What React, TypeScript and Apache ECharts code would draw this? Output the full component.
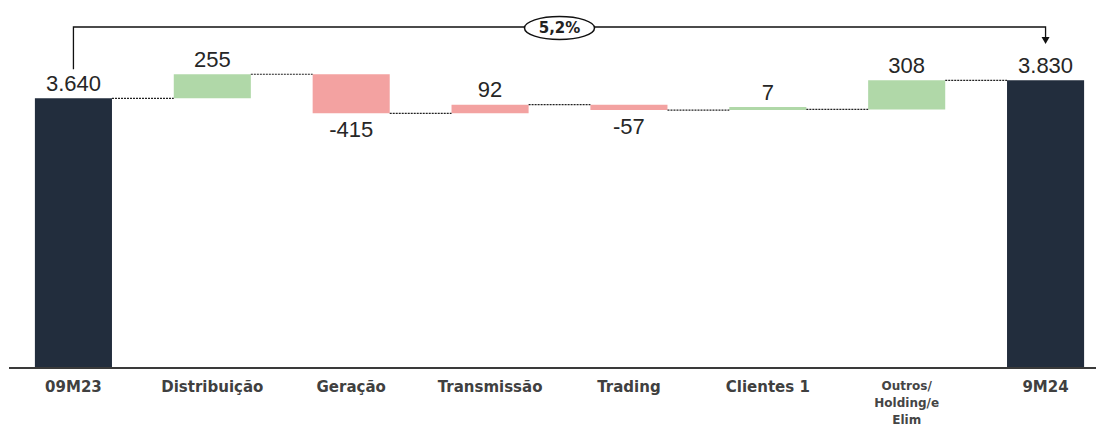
import React, { useEffect, useRef } from 'react';
import * as echarts from 'echarts';

const categories = ['09M23', 'Distribuição', 'Geração', 'Transmissão', 'Trading', 'Clientes 1', 'Outros/\nHolding/e\nElim', '9M24'];
const values = [3640, 255, -415, 92, -57, 7, 308, 3830];
const isTotal = [true, false, false, false, false, false, false, true];
// colour kind of each bar as shown in the source
const barKind = ['total', 'up', 'down', 'down', 'down', 'up', 'up', 'total'];
const changeLabel = '5,2%';
const yMin = 780;
const yMax = 4470;

const colors: Record<string, string> = { total: '#222d3d', up: '#b0d8a8', down: '#f3a2a1' };

function fmt(v: number): string {
  const neg = v < 0;
  const s = Math.abs(v).toString().replace(/\B(?=(\d{3})+(?!\d))/g, '.');
  return (neg ? '-' : '') + s;
}

export default function App() {
  const ref = useRef<HTMLDivElement>(null);
  useEffect(() => {
    if (!ref.current) return;
    const chart = echarts.init(ref.current, undefined, { renderer: 'svg' });
    const lows: number[] = [];
    const heights: number[] = [];
    const ends: number[] = [];
    let running = 0;
    values.forEach((v, i) => {
      if (isTotal[i]) {
        lows.push(0);
        heights.push(v);
        running = v;
      } else {
        const start = running;
        const end = running + v;
        lows.push(Math.min(start, end));
        heights.push(Math.abs(v));
        running = end;
      }
      ends.push(running);
    });
    const connectors = ends.slice(0, -1).map((lvl, i) => [i, lvl]);
    const barW = 0.555;
    const numFont = { fontFamily: 'Liberation Sans, Arial, sans-serif', fontSize: 22, color: '#262626' };

    chart.setOption({
      animation: false,
      grid: { left: 4, right: 1, top: 20, bottom: 61, outerBoundsMode: 'none', containLabel: false },
      xAxis: {
        type: 'category',
        data: categories.map((c) =>
          c.includes('\n')
            ? { value: c, textStyle: { fontSize: 12, lineHeight: 17, color: '#454545' } }
            : c
        ),
        axisLine: { show: false },
        axisTick: { show: false },
        axisLabel: {
          interval: 0,
          margin: 9,
          color: '#404040',
          fontFamily: 'DejaVu Sans, sans-serif',
          fontWeight: 'bold',
          fontSize: 15,
          lineHeight: 20,
        },
      },
      yAxis: { type: 'value', min: yMin, max: yMax, show: false, splitLine: { show: false } },
      series: [
        {
          type: 'bar',
          stack: 'w',
          barWidth: barW * 100 + '%',
          itemStyle: { color: 'transparent' },
          data: lows,
          silent: true,
        },
        {
          type: 'bar',
          stack: 'w',
          barWidth: barW * 100 + '%',
          barMinHeight: 3,
          data: heights.map((h, i) => ({
            value: h,
            itemStyle: { color: colors[barKind[i]] },
            label: {
              show: true,
              position: values[i] < 0 ? 'bottom' : 'top',
              distance: values[i] < 0 ? 5 : 4,
              formatter: fmt(values[i]),
              ...numFont,
            },
          })),
        },
        {
          type: 'custom',
          data: connectors,
          z: 5,
          renderItem: (params: any, api: any) => {
            const i = api.value(0);
            const lvl = api.value(1);
            const a = api.coord([i, lvl]);
            const b = api.coord([i + 1, lvl]);
            const hb = (api.size([1, 0])[0] * barW) / 2;
            return {
              type: 'line',
              shape: { x1: a[0] + hb, y1: a[1], x2: b[0] - hb, y2: b[1] },
              style: { stroke: '#222', lineWidth: 1.2, lineDash: [2, 1] },
            };
          },
        },
      ],
    });

    const p0 = chart.convertToPixel({ xAxisIndex: 0, yAxisIndex: 0 }, [0, values[0]]) as number[];
    const pN = chart.convertToPixel({ xAxisIndex: 0, yAxisIndex: 0 }, [values.length - 1, values[values.length - 1]]) as number[];
    const pBase = chart.convertToPixel({ xAxisIndex: 0, yAxisIndex: 0 }, [0, yMin]) as number[];
    const topY = 27;
    const midX = (p0[0] + pN[0]) / 2;
    chart.setOption({
      graphic: [
        {
          type: 'line',
          shape: { x1: 9, y1: pBase[1], x2: 1096, y2: pBase[1] },
          style: { stroke: '#3a3a3a', lineWidth: 2 },
          z: 10,
        },
        {
          type: 'polyline',
          shape: { points: [[p0[0], p0[1] - 29], [p0[0], topY], [pN[0], topY], [pN[0], topY + 11]] },
          style: { stroke: '#111', lineWidth: 1.3, fill: null },
        },
        {
          type: 'polygon',
          shape: { points: [[pN[0] - 4, topY + 10], [pN[0] + 4, topY + 10], [pN[0], topY + 17]] },
          style: { fill: '#111' },
        },
        {
          type: 'ellipse',
          shape: { cx: midX, cy: topY + 1, rx: 35, ry: 11.5 },
          style: { fill: '#fff', stroke: '#111', lineWidth: 1.5 },
        },
        {
          type: 'text',
          x: midX,
          y: topY + 1,
          style: {
            text: changeLabel,
            align: 'center',
            verticalAlign: 'middle',
            fontFamily: 'DejaVu Sans, sans-serif',
            fontWeight: 'bold',
            fontSize: 15,
            fill: '#222',
          },
        },
      ],
    });
    return () => chart.dispose();
  }, []);
  return (
    <div style={{ position: 'absolute', left: 0, top: 0, width: 1096, height: 429, overflow: 'hidden', background: '#fff' }}>
      <div ref={ref} style={{ width: 1116, height: 429 }} />
    </div>
  );
}
